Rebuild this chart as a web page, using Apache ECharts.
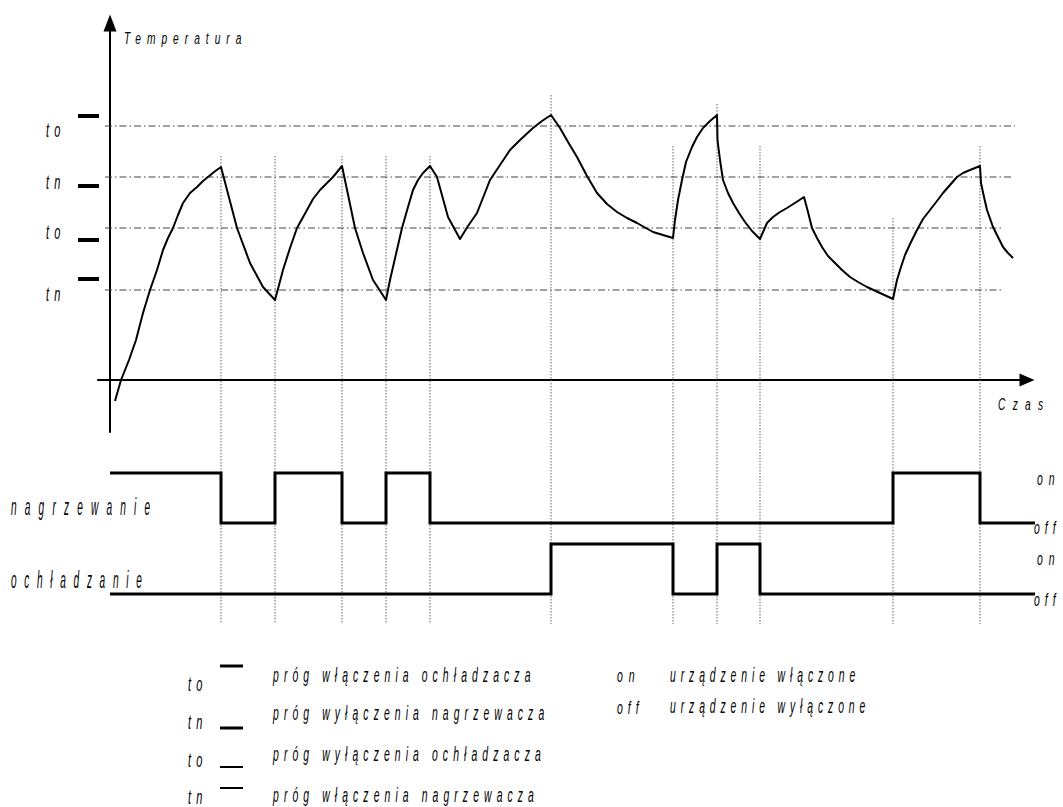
<!DOCTYPE html>
<html>
<head>
<meta charset="utf-8">
<script src="https://cdn.jsdelivr.net/npm/echarts@6/dist/echarts.min.js"></script>
<style>
html, body { margin: 0; padding: 0; background: #fff; }
#chart { width: 1063px; height: 807px; }
</style>
</head>
<body>
<div id="chart"></div>
<script>
// ---------------- data ----------------
const curveTime = [0.5,1.1,1.9,2.6,3.3,4.0,4.7,5.3,5.8,6.3,6.8,7.3,8.0,8.7,9.3,9.8,10.4,11.1,
  12.7,14.0,15.3,16.5,
  17.3,18.0,18.7,19.7,20.3,21.0,21.7,22.3,23.2,
  24.5,25.3,26.3,27.6,
  28.0,28.6,29.2,29.8,30.3,30.8,31.3,32.0,
  32.7,33.8,35.0,
  35.8,36.7,38.0,39.0,40.0,41.0,42.3,43.2,44.1,
  45.0,45.8,46.7,47.7,48.7,49.7,50.7,51.7,52.7,54.3,56.3,
  56.5,56.8,57.2,57.6,58.2,58.7,59.3,60.0,60.7,
  60.75,61.0,61.3,61.8,62.3,62.9,63.5,64.2,65.0,
  65.7,66.3,67.0,67.7,68.8,69.4,
  69.8,70.2,70.7,71.2,71.8,72.5,73.2,74.0,74.8,75.7,77.0,78.3,
  78.7,79.1,79.5,80.1,80.7,81.3,82.0,82.7,83.3,84.0,84.7,85.3,86.0,87.0,
  87.1,87.4,87.7,88.3,88.8,89.3,89.8,90.3];
const curveTemp = [-2.1,0,2.0,4.0,6.7,9.0,11.0,13.0,14.2,15.2,16.5,17.7,18.7,19.3,19.9,20.3,20.8,21.3,
  15.2,11.7,9.3,8.0,
  11.0,13.2,15.2,17.0,18.1,19.0,19.7,20.3,21.4,
  15.2,12.7,10.0,8.0,
  10.0,12.6,15.2,17.3,19.0,20.0,20.7,21.4,
  20.3,16.3,14.1,
  15.4,16.7,20.0,21.5,23.0,24.0,25.2,25.9,26.5,
  25.2,23.8,22.3,20.4,18.7,17.6,16.8,16.2,15.7,14.8,14.2,
  16.0,18.0,20.0,21.8,23.3,24.3,25.2,25.9,26.5,
  24.0,22.0,20.0,18.7,17.7,16.7,15.8,14.9,14.1,
  15.7,16.3,16.8,17.2,17.9,18.3,
  16.8,15.2,14.2,13.3,12.4,11.7,11.0,10.3,9.8,9.3,8.7,8.1,
  10.0,11.3,12.5,13.8,15.0,16.1,17.0,17.9,18.7,19.5,20.3,20.7,21.0,21.4,
  19.7,18.3,17.0,15.3,14.3,13.3,12.7,12.2];

const thresholdNames = ['to', 'tn', 'to', 'tn'];
const thresholdTemps = [25.4, 20.3, 15.2, 9.0];
const thresholdStart = -0.5;
const thresholdEnds = [90.5, 90.3, 89.3, 89.3];
const thresholdMarkTemps = [26.4, 19.4, 14.0, 10.1];

const eventTimes = [11.1, 16.5, 23.2, 27.6, 32.0, 44.1, 56.3, 60.7, 65.0, 78.3, 87.0];
const eventTopTemps = [22.4, 22.4, 22.4, 22.4, 22.4, 28.5, 23.4, 27.6, 23.4, 16.2, 23.4];
const eventBottomTemp = -24.4;

const heatTimes = [0, 11.1, 16.5, 23.2, 27.6, 32.0, 78.3, 87.0, 92.5];
const heatStates = [1, 0, 1, 0, 1, 0, 1, 0, 0];
const coolTimes = [0, 44.1, 56.3, 60.7, 65.0, 92.5];
const coolStates = [0, 1, 0, 1, 0, 0];

const axisNames = ['Temperatura', 'Czas'];
const signalNames = ['nagrzewanie', 'ochładzanie'];
const stateNames = ['on', 'off'];
const legendSymbols = ['to', 'tn', 'to', 'tn'];
const legendTexts = ['próg włączenia ochładzacza', 'próg wyłączenia nagrzewacza', 'próg wyłączenia ochładzacza', 'próg włączenia nagrzewacza'];
const stateLegendTexts = ['urządzenie włączone', 'urządzenie wyłączone'];

// ---------------- build ----------------
const zip = (a, b) => a.map((v, i) => [v, b[i]]);

const eventData = [];
eventTimes.forEach((t, i) => { eventData.push([t, eventTopTemps[i]], [t, eventBottomTemp], [t, '-']); });
const thresholdData = [];
thresholdTemps.forEach((v, i) => { thresholdData.push([thresholdStart, v], [thresholdEnds[i], v], [thresholdEnds[i], '-']); });
const markData = [];
thresholdMarkTemps.forEach(v => { markData.push([0, v], [1, v], [1, '-']); });

const FONT = '"Liberation Sans", Arial, sans-serif';
const spacingMap = {};   // text -> local letter-spacing in px
function label(text, x, y, fs, sx, sp) {
  spacingMap[text] = sp / sx;
  return { type: 'text', x: x, y: y, scaleX: sx, silent: true, z: 10,
    style: { text: text, fill: '#000', font: 'italic ' + fs + 'px ' + FONT, align: 'left', verticalAlign: 'middle' } };
}
function bar(x, y, w, h) {
  return { type: 'rect', silent: true, shape: { x: x, y: y, width: w, height: h }, style: { fill: '#000' } };
}

const graphics = [];
graphics.push(label(axisNames[0], 124, 38, 17, 0.6, 6.0));
graphics.push(label(axisNames[1], 998, 404, 17, 0.6, 7.3));
const thrLabelY = [130, 182, 232, 294];
thresholdNames.forEach((n, i) => graphics.push(label(n, 46, thrLabelY[i], 20, 0.55, 5.3)));
graphics.push(label(signalNames[0], 11, 507, 24, 0.42, 8.2));
graphics.push(label(signalNames[1], 11, 580, 24, 0.42, 7.7));
graphics.push(label(stateNames[0], 1037, 478, 19, 0.55, 6.0));
graphics.push(label(stateNames[1], 1034, 527, 19, 0.55, 5.0));
graphics.push(label(stateNames[0], 1037, 558, 19, 0.55, 6.0));
graphics.push(label(stateNames[1], 1034, 599, 19, 0.55, 5.0));
// legend
const legSymY = [684, 722, 760, 797];
const legTxtY = [675, 713, 754, 795];
const legBars = [[664.5, 3], [726.5, 3], [766, 2], [787, 2]];
legendSymbols.forEach((s, i) => {
  graphics.push(label(s, 188, legSymY[i], 20, 0.55, 5.3));
  graphics.push(bar(220, legBars[i][0], 23, legBars[i][1]));
  graphics.push(label(legendTexts[i], 273, legTxtY[i], 20, 0.52, 5.1));
});
graphics.push(label(stateNames[0], 617, 675, 19, 0.55, 6.0));
graphics.push(label(stateNames[1], 617, 707, 19, 0.55, 5.0));
graphics.push(label(stateLegendTexts[0], 670, 675, 20, 0.52, 4.9));
graphics.push(label(stateLegendTexts[1], 670, 706, 20, 0.52, 4.9));

const option = {
  animation: false,
  backgroundColor: '#fff',
  grid: [
    { left: 98, top: 23, width: 929, height: 409, containLabel: false, outerBoundsMode: 'none' },
    { left: 98, top: 473, width: 942, height: 50, containLabel: false, outerBoundsMode: 'none' },
    { left: 98, top: 544, width: 942, height: 50, containLabel: false, outerBoundsMode: 'none' },
    { left: 78, top: 23, width: 21, height: 409, containLabel: false, outerBoundsMode: 'none' }
  ],
  xAxis: [
    { gridIndex: 0, type: 'value', min: -1.2, max: 91.7,
      axisLine: { show: true, onZero: true, symbol: ['none', 'triangle'], symbolSize: [13, 15], lineStyle: { color: '#000', width: 2 } },
      axisTick: { show: false }, axisLabel: { show: false }, splitLine: { show: false } },
    { gridIndex: 1, type: 'value', min: -1.2, max: 93.0, show: false },
    { gridIndex: 2, type: 'value', min: -1.2, max: 93.0, show: false },
    { gridIndex: 3, type: 'value', min: 0, max: 1, show: false }
  ],
  yAxis: [
    { gridIndex: 0, type: 'value', min: -5.2, max: 35.7,
      axisLine: { show: true, onZero: true, symbol: ['none', 'triangle'], symbolSize: [13, 17], lineStyle: { color: '#000', width: 2 } },
      axisTick: { show: false }, axisLabel: { show: false }, splitLine: { show: false } },
    { gridIndex: 1, type: 'value', min: 0, max: 1, show: false },
    { gridIndex: 2, type: 'value', min: 0, max: 1, show: false },
    { gridIndex: 3, type: 'value', min: -5.2, max: 35.7, show: false }
  ],
  series: [
    { name: 'events', type: 'line', xAxisIndex: 0, yAxisIndex: 0, data: eventData, clip: false,
      showSymbol: false, symbol: 'none', silent: true, connectNulls: false, z: 1,
      lineStyle: { color: '#666', width: 1, type: [1.5, 1.5] } },
    { name: 'thresholds', type: 'line', xAxisIndex: 0, yAxisIndex: 0, data: thresholdData, clip: false,
      showSymbol: false, symbol: 'none', silent: true, connectNulls: false, z: 2,
      lineStyle: { color: '#444', width: 1, type: [7, 3, 1.5, 3] } },
    { name: 'marks', type: 'line', xAxisIndex: 3, yAxisIndex: 3, data: markData, clip: false,
      showSymbol: false, symbol: 'none', silent: true, connectNulls: false, z: 3,
      lineStyle: { color: '#000', width: 4, cap: 'butt' } },
    { name: 'temperatura', type: 'line', xAxisIndex: 0, yAxisIndex: 0, data: zip(curveTime, curveTemp), clip: false,
      showSymbol: false, symbol: 'none', silent: true, z: 5,
      lineStyle: { color: '#000', width: 2, join: 'round' } },
    { name: 'nagrzewanie', type: 'line', xAxisIndex: 1, yAxisIndex: 1, data: zip(heatTimes, heatStates), step: 'end', clip: false,
      showSymbol: false, symbol: 'none', silent: true, z: 5,
      lineStyle: { color: '#000', width: 3, join: 'miter' } },
    { name: 'ochładzanie', type: 'line', xAxisIndex: 2, yAxisIndex: 2, data: zip(coolTimes, coolStates), step: 'end', clip: false,
      showSymbol: false, symbol: 'none', silent: true, z: 5,
      lineStyle: { color: '#000', width: 3, join: 'miter' } }
  ],
  graphic: graphics
};

const chart = echarts.init(document.getElementById('chart'), null, { renderer: 'svg' });
chart.setOption(option);

// letter spacing to imitate the spaced, condensed lettering of the original
function applySpacing() {
  document.querySelectorAll('#chart text').forEach(el => {
    const v = spacingMap[el.textContent];
    if (v !== undefined) el.style.letterSpacing = v + 'px';
  });
}
applySpacing();
chart.on('finished', applySpacing);
setTimeout(applySpacing, 30);
</script>
</body>
</html>
